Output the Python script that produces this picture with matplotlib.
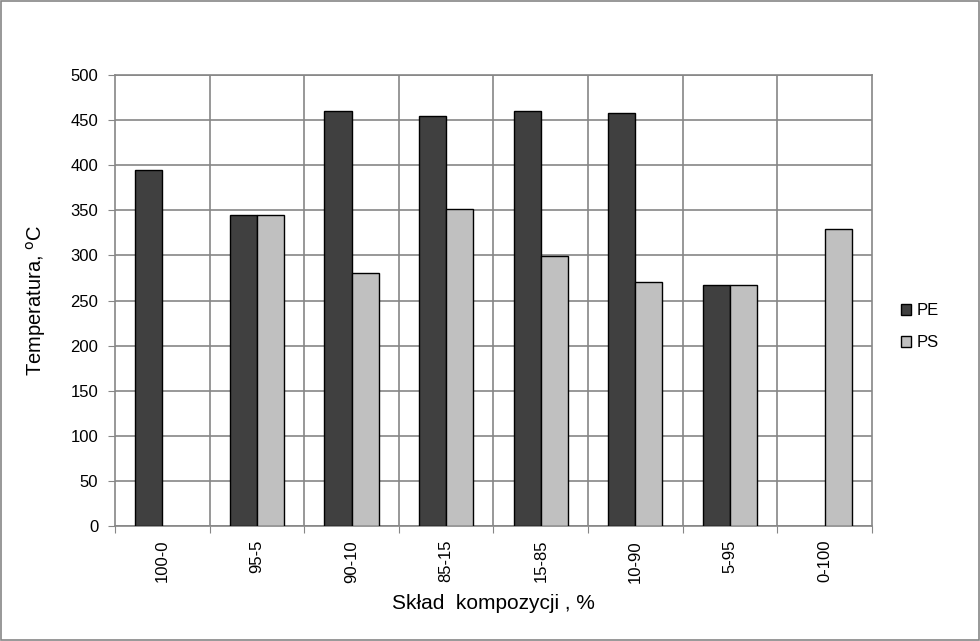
import matplotlib
matplotlib.use("Agg")
import matplotlib.pyplot as plt
import numpy as np
from matplotlib.patches import Rectangle

categories = ["100-0", "95-5", "90-10", "85-15", "15-85", "10-90", "5-95", "0-100"]
pe_values = [395, 345, 460, 455, 460, 458, 267, 0]
ps_values = [0, 345, 281, 351, 299, 270, 267, 329]
y_ticks = [0, 50, 100, 150, 200, 250, 300, 350, 400, 450, 500]

plt.rcParams['font.family'] = ['Liberation Sans', 'DejaVu Sans']

fig = plt.figure(figsize=(9.8, 6.41), dpi=100)
fig.patches.append(Rectangle((0.0008, 0.0012), 0.9984, 0.9976, transform=fig.transFigure,
                             fill=False, edgecolor='#868686', linewidth=1.2))
ax = fig.add_axes([0.1173, 0.1794, 0.7725, 0.7036])

n = len(categories)
x = np.arange(n)
w = 0.286
grid_c = '#868686'
pe_mask = np.array(pe_values) > 0
ps_mask = np.array(ps_values) > 0
ax.bar(x[pe_mask] - w / 2, np.array(pe_values)[pe_mask], width=w, color='#404040',
       edgecolor='black', linewidth=1, label='PE', zorder=3)
ax.bar(x[ps_mask] + w / 2, np.array(ps_values)[ps_mask], width=w, color='#c0c0c0',
       edgecolor='black', linewidth=1, label='PS', zorder=3)

ax.set_xlim(-0.5, n - 0.5)
ax.set_ylim(0, 500)
ax.set_yticks(y_ticks)
ax.set_yticklabels([str(v) for v in y_ticks], fontsize=12)
ax.yaxis.grid(True, color=grid_c, linewidth=1.2, zorder=0)
for b in np.arange(0.5, n - 0.5, 1):
    ax.axvline(b, color=grid_c, linewidth=1.2, zorder=0)

ax.set_xticks(np.arange(-0.5, n, 1))
ax.set_xticklabels([])
ax.set_xticks(x, minor=True)
ax.set_xticklabels(categories, minor=True, rotation=90, fontsize=12)
ax.tick_params(axis='x', which='minor', length=0, pad=10)
ax.tick_params(axis='x', which='major', length=5, color=grid_c)
ax.tick_params(axis='y', length=5, color=grid_c, pad=7)

for s in ax.spines.values():
    s.set_color(grid_c)
    s.set_linewidth(1.2)

ax.set_xlabel('Skład  kompozycji , %', fontsize=15, labelpad=8)
ax.set_ylabel(r'Temperatura, $^{\rm o}$C', fontsize=14.5, labelpad=16)

ax.legend(loc='center left', bbox_to_anchor=(1.018, 0.442), frameon=False, fontsize=12,
          handlelength=0.65, handleheight=0.65, handletextpad=0.3, labelspacing=1.0)

fig.savefig('out.png', dpi=100)
